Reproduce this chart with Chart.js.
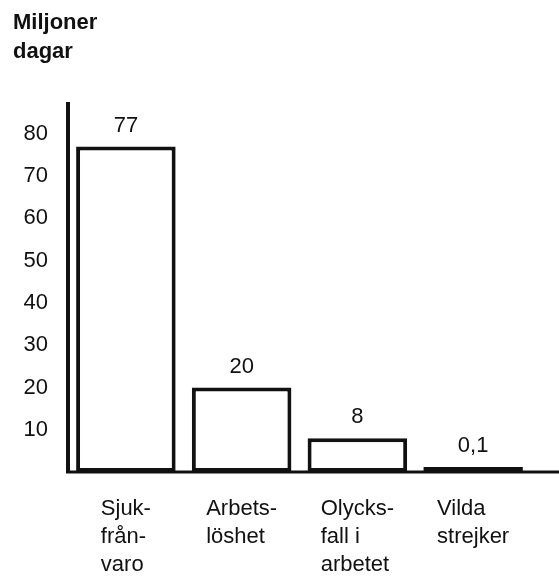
<!DOCTYPE html>
<html>
<head>
<meta charset="utf-8">
<script src="https://cdn.jsdelivr.net/npm/chart.js@4/dist/chart.umd.min.js"></script>
<style>
  html, body { margin: 0; padding: 0; background: #fff; }
  #wrap { width: 559px; height: 576px; position: relative; }
</style>
</head>
<body>
<div id="wrap"><canvas id="chart"></canvas></div>
<script>
// Data
const categories = [
    ['Sjuk-', 'från-', 'varo'],
    ['Arbets-', 'löshet'],
    ['Olycks-', 'fall i', 'arbetet'],
    ['Vilda', 'strejker']
];
const values = [77, 20, 8, 0.1];
const yTicks = [10, 20, 30, 40, 50, 60, 70, 80];
const titleLines = ['Miljoner', 'dagar'];

const ink = '#111';
const fontFamily = '"Liberation Sans", Arial, Helvetica, sans-serif';

// value labels above bars, swedish decimal comma
const valueLabels = {
    id: 'valueLabels',
    afterDatasetsDraw(chart) {
        const ctx = chart.ctx;
        const meta = chart.getDatasetMeta(0);
        ctx.save();
        ctx.font = '22px ' + fontFamily;
        ctx.fillStyle = ink;
        ctx.textAlign = 'center';
        ctx.textBaseline = 'middle';
        meta.data.forEach((bar, i) => {
            ctx.fillText(String(values[i]).replace('.', ','), bar.x, bar.y - 21);
        });
        ctx.restore();
    }
};

// category labels under the axis, left aligned block centred under each bar
const categoryLabels = {
    id: 'categoryLabels',
    afterDraw(chart) {
        const ctx = chart.ctx;
        const xScale = chart.scales.x;
        const top = chart.chartArea.bottom + 37;
        ctx.save();
        ctx.font = '22px ' + fontFamily;
        ctx.fillStyle = ink;
        ctx.textAlign = 'left';
        ctx.textBaseline = 'middle';
        categories.forEach((lines, i) => {
            const w = Math.max(...lines.map(l => ctx.measureText(l).width));
            const x0 = xScale.getPixelForValue(i) - w / 2;
            lines.forEach((l, j) => ctx.fillText(l, x0, top + j * 28));
        });
        ctx.restore();
    }
};

// baseline, running on to the right edge of the page
const baseline = {
    id: 'baseline',
    afterDatasetsDraw(chart) {
        const ctx = chart.ctx;
        const a = chart.chartArea;
        ctx.save();
        ctx.strokeStyle = ink;
        ctx.lineWidth = 3;
        ctx.beginPath();
        ctx.moveTo(a.left - 2, a.bottom);
        ctx.lineTo(chart.width, a.bottom);
        ctx.stroke();
        ctx.restore();
    }
};

const ctx = document.getElementById('chart').getContext('2d');
new Chart(ctx, {
    type: 'bar',
    data: {
        labels: categories,
        datasets: [{
            data: values,
            backgroundColor: '#fff',
            borderColor: ink,
            borderWidth: 4,
            borderSkipped: false,
            minBarLength: 5,
            barPercentage: 0.86,
            categoryPercentage: 1
        }]
    },
    options: {
        responsive: true,
        maintainAspectRatio: false,
        animation: false,
        layout: { padding: { left: 13, right: 28, bottom: 104, top: 0 } },
        plugins: {
            legend: { display: false },
            tooltip: { enabled: false },
            title: {
                display: true,
                text: titleLines,
                align: 'start',
                color: ink,
                font: { family: fontFamily, size: 22, weight: 'bold', lineHeight: 1.3 },
                padding: { top: 9, bottom: 38 }
            }
        },
        scales: {
            x: {
                grid: { display: false, drawTicks: false },
                border: { display: false },
                ticks: { display: false }
            },
            y: {
                min: 0,
                max: 87,
                grid: { display: false, drawTicks: false },
                border: { display: true, color: ink, width: 4 },
                afterFit(scale) { scale.width = 55; },
                ticks: {
                    stepSize: 10,
                    padding: 20,
                    color: ink,
                    font: { family: fontFamily, size: 22 },
                    callback: v => yTicks.includes(v) ? String(v) : ''
                }
            }
        }
    },
    plugins: [valueLabels, categoryLabels, baseline]
});
</script>
</body>
</html>
